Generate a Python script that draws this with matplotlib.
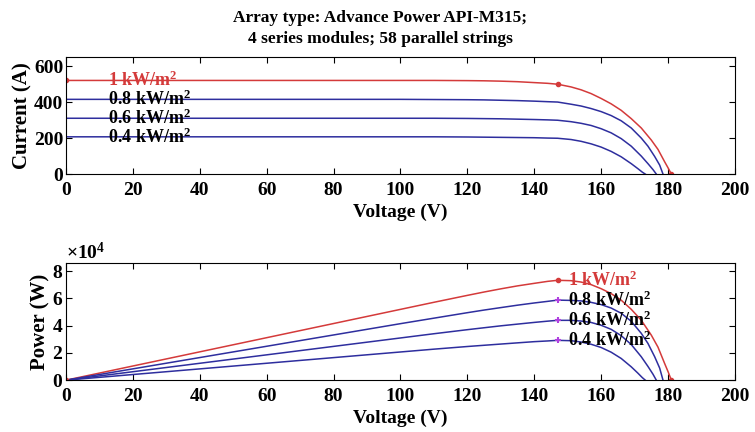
import matplotlib.pyplot as plt

plt.rcParams['font.family'] = ['Liberation Serif', 'DejaVu Serif']
plt.rcParams['font.weight'] = 'bold'
plt.rcParams['mathtext.fontset'] = 'custom'
plt.rcParams['mathtext.rm'] = 'Liberation Serif:bold'
plt.rcParams['mathtext.default'] = 'rm'

# I-V readings per irradiance level (voltage in V, current in A)
V_10 = [0, 20, 40, 60, 80, 100, 110, 120, 125, 130, 135, 140, 144, 147, 151, 154, 157, 160,
        163, 166, 169, 172, 175, 177, 179, 180, 181]
I_10 = [520, 520, 520, 520, 520, 520, 520, 519, 518, 516, 513, 508, 504, 499, 484, 468, 447, 420,
        390, 354, 308, 256, 189, 137, 68, 35, 0]
V_08 = [0, 20, 40, 60, 80, 100, 110, 120, 125, 130, 135, 140, 144, 147, 151, 154, 157, 160,
        163, 166, 169, 172, 174, 176, 177.5, 178.5]
I_08 = [415, 415, 415, 415, 415, 415, 414, 413, 412, 410, 408, 405, 402, 400, 388, 378, 364, 347,
        325, 296, 256, 200, 155, 98, 50, 0]
V_06 = [0, 20, 40, 60, 80, 100, 110, 120, 125, 130, 135, 140, 144, 147, 151, 154, 157, 160,
        163, 166, 169, 172, 174, 175.5, 176.5]
I_06 = [310, 310, 310, 310, 310, 310, 310, 309, 308, 307, 305, 303, 301, 299, 291, 282, 270, 252,
        229, 197, 155, 100, 58, 25, 0]
V_04 = [0, 20, 40, 60, 80, 100, 110, 120, 125, 130, 135, 140, 144, 147, 151, 154, 157, 160,
        163, 166, 169, 171, 172.3, 173.2]
I_04 = [207, 207, 207, 207, 207, 207, 207, 206, 205, 204, 203, 202, 200, 199, 192, 182, 168, 150,
        126, 96, 58, 30, 11, 0]

# P-V readings (W) at the same voltage points
P_10 = [0, 10400, 20800, 31200, 41600, 52000, 57200, 62280, 64750, 67080, 69255, 71120, 72576,
        73353, 73084, 72072, 70179, 67200, 63570, 58764, 52052, 44032, 33075, 24249, 12172, 6300, 0]
P_08 = [0, 8300, 16600, 24900, 33200, 41500, 45540, 49560, 51500, 53300, 55080, 56700, 57888,
        58800, 58588, 58212, 57148, 55520, 52975, 49136, 43264, 34400, 26970, 17248, 8875, 0]
P_06 = [0, 6200, 12400, 18600, 24800, 31000, 34100, 37080, 38500, 39910, 41175, 42420, 43344,
        43953, 43941, 43428, 42390, 40320, 37327, 32702, 26195, 17200, 10092, 4388, 0]
P_04 = [0, 4140, 8280, 12420, 16560, 20700, 22770, 24720, 25625, 26520, 27405, 28280, 28800,
        29253, 28992, 28028, 26376, 24000, 20538, 15936, 9802, 5130, 1895, 0]

labels = ['1 kW/m$^2$', '0.8 kW/m$^2$', '0.6 kW/m$^2$', '0.4 kW/m$^2$']
Isc = [520, 415, 310, 207]
V_mpp = 147
I_mpp = [499, 400, 299, 199]
P_mpp = [73353, 58800, 43953, 29253]
Voc = 181

red = '#d43a3a'
blue = '#2e2e9e'
colors = [red, blue, blue, blue]

fig = plt.figure(figsize=(7.55, 4.32), dpi=100)
ax1 = fig.add_axes([0.0874, 0.597, 0.886, 0.271])
ax2 = fig.add_axes([0.0874, 0.120, 0.886, 0.271])

Vs = [V_10, V_08, V_06, V_04]
Is = [I_10, I_08, I_06, I_04]
Ps = [P_10, P_08, P_06, P_04]

for i in range(4):
    ax1.plot(Vs[i], Is[i], color=colors[i], lw=1.1)
    ax2.plot(Vs[i], Ps[i], color=colors[i], lw=1.1)

ax1.plot([0, V_mpp, Voc], [Isc[0], I_mpp[0], 0], 'o', color=red, ms=3)
ax2.plot([0, V_mpp, Voc], [0, P_mpp[0], 0], 'o', color=red, ms=3)
ax2.plot([V_mpp] * 3, P_mpp[1:], '+', color='#b040e0', ms=5, mew=1.5)

for i in range(4):
    c = red if i == 0 else 'black'
    ax1.text(12.5, Isc[i], labels[i], color=c, fontsize=13, fontweight='bold', va='center')
    ax2.text(150, P_mpp[i], labels[i], color=c, fontsize=13, fontweight='bold', va='center')

for ax in (ax1, ax2):
    ax.set_xlim(0, 200)
    ax.set_xticks(range(0, 201, 20))
    ax.tick_params(direction='in', top=True, right=True, labelsize=14, length=4)
    ax.tick_params(axis='x', pad=6)
    ax.tick_params(axis='y', pad=2)
    ax.set_xlabel('Voltage (V)', fontsize=14, fontweight='bold', labelpad=3)

ax1.set_ylim(0, 650)
ax1.set_yticks([0, 200, 400, 600])
ax1.set_ylabel('Current (A)', fontsize=15, fontweight='bold', labelpad=1)
ax1.set_title('Array type: Advance Power API-M315;\n4 series modules; 58 parallel strings',
              fontsize=12.5, fontweight='bold', pad=10, x=0.47, linespacing=1.45)

ax2.set_ylim(0, 86000)
ax2.set_yticks([0, 20000, 40000, 60000, 80000])
ax2.ticklabel_format(axis='y', style='sci', scilimits=(4, 4), useMathText=True)
ax2.yaxis.get_offset_text().set_fontsize(14)
ax2.set_ylabel('Power (W)', fontsize=15, fontweight='bold', labelpad=1)

fig.savefig('out.png', dpi=100)
